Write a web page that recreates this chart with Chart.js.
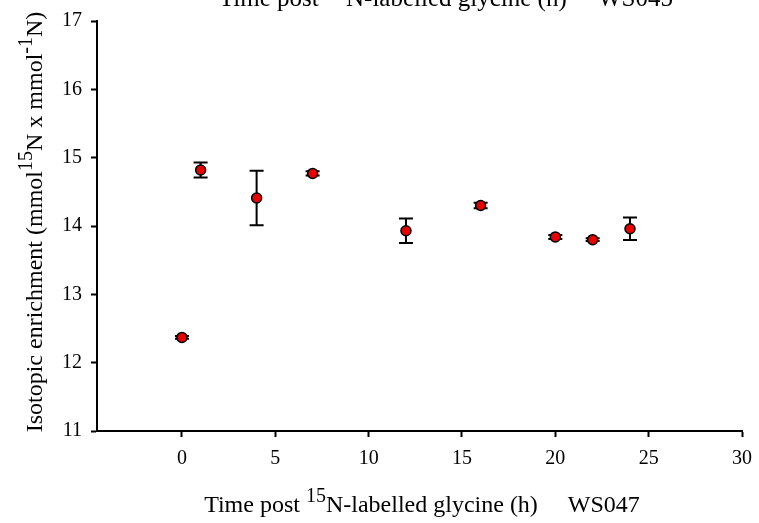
<!DOCTYPE html>
<html>
<head>
<meta charset="utf-8">
<script src="https://cdn.jsdelivr.net/npm/chart.js@4/dist/chart.umd.min.js"></script>
<style>
  html, body { margin: 0; padding: 0; background: #fff; }
  #wrap { width: 759px; height: 523px; }
</style>
</head>
<body>
<div id="wrap"><canvas id="graphOne" width="759" height="523"></canvas></div>
<script>
var times = [0, 1, 4, 7, 12, 16, 20, 22, 24];
var enrichment = [12.37, 14.82, 14.41, 14.77, 13.93, 14.30, 13.84, 13.80, 13.96];
var errors = [0.02, 0.11, 0.40, 0.03, 0.18, 0.04, 0.03, 0.02, 0.165];
var xTicks = [0, 5, 10, 15, 20, 25, 30];
var yTicks = [11, 12, 13, 14, 15, 16, 17];

var serif = '"Liberation Serif", "Times New Roman", serif';

var points = times.map((t, i) => ({ x: t, y: enrichment[i] }));

// draws text with superscript parts, centred on x
var drawRich = (ctx, parts, x, y, size) => {
    var supSize = Math.round(size * 0.85);
    var total = 0;
    parts.forEach(p => {
        ctx.font = (p.sup ? supSize : size) + 'px ' + serif;
        total += ctx.measureText(p.t).width;
    });
    var cx = x - total / 2;
    ctx.textAlign = 'left';
    ctx.textBaseline = 'alphabetic';
    parts.forEach(p => {
        ctx.font = (p.sup ? supSize : size) + 'px ' + serif;
        ctx.fillText(p.t, cx, p.sup ? y - size * 0.4 : y);
        cx += ctx.measureText(p.t).width;
    });
};

var errorBars = {
    id: 'errorBars',
    beforeDatasetsDraw: (chart) => {
        var ctx = chart.ctx;
        var xs = chart.scales.x, ys = chart.scales.y;
        ctx.save();
        ctx.strokeStyle = '#000';
        ctx.lineWidth = 2;
        times.forEach((t, i) => {
            var px = xs.getPixelForValue(t);
            var top = ys.getPixelForValue(enrichment[i] + errors[i]);
            var bot = ys.getPixelForValue(enrichment[i] - errors[i]);
            ctx.beginPath();
            ctx.moveTo(px, top); ctx.lineTo(px, bot);
            ctx.moveTo(px - 7, top); ctx.lineTo(px + 7, top);
            ctx.moveTo(px - 7, bot); ctx.lineTo(px + 7, bot);
            ctx.stroke();
        });
        ctx.restore();
    }
};

var titles = {
    id: 'titles',
    afterDraw: (chart) => {
        var ctx = chart.ctx;
        ctx.save();
        ctx.fillStyle = '#000';
        drawRich(ctx, [{t: 'Time post '}, {t: '15', sup: true}, {t: 'N-labelled glycine (h)     WS045'}], 446, 6, 25);
        drawRich(ctx, [{t: 'Time post '}, {t: '15', sup: true}, {t: 'N-labelled glycine (h)     WS047'}], 422, 512, 24);
        ctx.translate(42, 222);
        ctx.rotate(-Math.PI / 2);
        drawRich(ctx, [{t: 'Isotopic enrichment (mmol'}, {t: '15', sup: true}, {t: 'N x mmol'}, {t: '-1', sup: true}, {t: 'N)'}], 0, 0, 24);
        ctx.restore();
    }
};

new Chart(
    document.getElementById('graphOne'),
    {
        type: 'scatter',
        data: {
            datasets: [{
                label: 'WS047',
                data: points,
                backgroundColor: '#e80000',
                borderColor: '#000',
                borderWidth: 1.5,
                pointRadius: 5,
                pointHoverRadius: 5
            }]
        },
        options: {
            responsive: false,
            animation: false,
            events: [],
            layout: { padding: { top: 19, right: 17, left: 0, bottom: 0 } },
            plugins: {
                legend: { display: false },
                tooltip: { enabled: false }
            },
            scales: {
                x: {
                    type: 'linear',
                    position: 'bottom',
                    min: -4.55,
                    max: 30,
                    afterFit: (axis) => {
                        axis.height = 92;
                        axis.paddingLeft = 0;
                        axis.paddingRight = 0;
                    },
                    afterBuildTicks: (axis) => { axis.ticks = xTicks.map(v => ({ value: v })); },
                    border: { display: true, color: '#000', width: 2 },
                    grid: { display: true, drawOnChartArea: false, drawTicks: true, tickLength: 6, tickWidth: 2, tickColor: '#000' },
                    ticks: {
                        color: '#000',
                        padding: 10,
                        maxRotation: 0,
                        font: { family: serif, size: 20 }
                    }
                },
                y: {
                    min: 11,
                    max: 17,
                    afterFit: (axis) => { axis.width = 97; },
                    afterBuildTicks: (axis) => { axis.ticks = yTicks.map(v => ({ value: v })); },
                    border: { display: true, color: '#000', width: 2 },
                    grid: { display: true, drawOnChartArea: false, drawTicks: true, tickLength: 6, tickWidth: 2, tickColor: '#000' },
                    ticks: {
                        color: '#000',
                        padding: 9,
                        font: { family: serif, size: 20 }
                    }
                }
            }
        },
        plugins: [errorBars, titles]
    }
);
</script>
</body>
</html>
